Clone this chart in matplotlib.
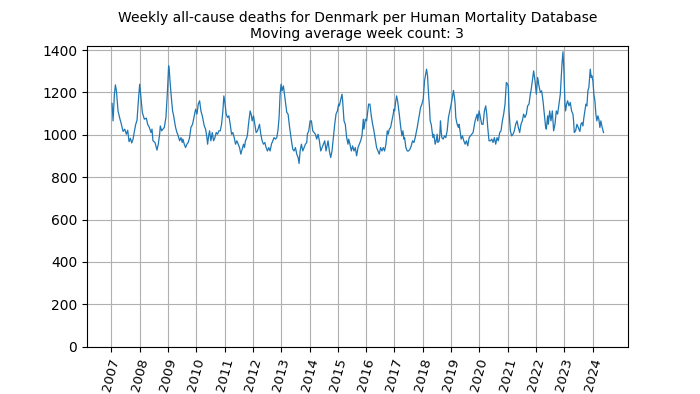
import matplotlib
matplotlib.use("Agg")
import matplotlib.pyplot as plt
import numpy as np

# weeks since start of 2007 and 3-week moving average of deaths
weeks = [
    1.2, 3.0, 5.5, 7.3, 9.2, 12.2, 15.3, 18.4, 21.4, 24.5, 27.6, 30.0, 32.5, 35.0, 37.4, 39.9,
    42.3, 44.8, 47.2, 49.7, 52.1, 54.6, 57.0, 60.7, 64.4,
    66.8, 69.9, 72.9, 74.8, 76.6, 80.3, 84.0, 86.4, 88.9, 90.1, 92.6, 95.0, 97.5, 100.5, 103.0,
    105.5, 106.7, 108.5, 111.0, 112.8, 114.7, 118.3, 120.8, 123.2, 125.7, 128.2, 130.6, 131.8,
    134.3, 136.7, 139.2, 141.6, 144.1, 146.6, 149.6, 152.7,
    155.2, 157.7, 160.1, 162.6, 165.0, 167.5, 171.2, 173.6, 176.1, 177.3, 179.7, 181.0, 183.4,
    185.9, 188.3, 190.8, 193.2, 195.7, 198.1, 200.6, 203.1, 205.5, 207.3, 209.2, 211.6, 214.1,
    216.5, 219.0, 221.5, 223.9, 226.4, 228.8, 231.3, 233.7, 236.2, 238.6, 241.1,
    243.5, 245.3, 247.2, 249.6, 250.9, 252.7, 255.8, 257.6, 259.5, 261.9, 264.4, 266.8, 269.3,
    273.0, 275.4, 277.9, 280.3, 282.8, 285.2, 287.7, 290.1, 292.6, 295.0, 297.5, 299.9, 302.4,
    304.9, 307.3, 309.1, 311.0, 312.8, 314.7, 317.1, 319.0, 320.8, 323.3, 325.7, 328.2,
    331.9, 334.4, 336.8, 339.3, 341.7, 344.2, 346.0, 347.9, 350.3, 352.8, 355.2, 357.7, 360.1,
    361.3, 363.8, 366.3, 368.7, 371.2, 373.6, 376.1, 378.5, 381.0, 383.4, 385.9, 388.3, 390.8,
    393.3, 395.7, 398.2, 399.4, 401.8, 404.3, 406.7, 409.2, 411.7, 414.1, 416.6, 419.0,
    420.2, 425.1, 426.3, 428.8, 431.2, 433.7, 436.2, 437.4, 439.8, 442.3, 444.7, 447.2, 449.6,
    452.1, 454.6, 457.0, 459.5, 461.9, 464.4, 465.6, 468.1, 470.5, 474.2, 476.6, 479.1, 481.6,
    484.0, 486.5, 488.9, 491.4, 493.8, 496.3, 498.7, 501.2, 503.6, 506.1,
    508.6, 510.4, 512.3, 514.7, 517.2, 519.6, 520.9, 522.1, 523.9, 525.8, 527.6, 530.7, 533.1,
    535.6, 537.4, 539.3, 540.5, 542.9, 545.4, 547.9, 550.3, 552.8, 555.2, 557.7, 560.1, 563.8,
    566.9, 570.0, 572.4, 574.9, 577.3, 581.0, 582.8, 584.7, 586.5, 587.7, 589.6, 592.7, 594.5,
    596.9, 598.7, 600.6, 601.8, 604.3, 605.5, 606.7, 607.9, 609.2, 611.6, 614.1, 616.5, 619.0,
    621.4, 623.9, 626.4, 628.8, 630.6, 632.5, 633.7, 634.9, 637.4, 639.8, 641.1, 643.5, 644.8,
    647.2, 649.7, 652.1, 654.6, 657.0, 659.5, 661.9, 664.4, 666.8, 670.5, 674.2, 675.4, 677.9,
    680.3, 682.8,
    685.2, 687.7, 690.1, 692.0, 693.8, 696.2, 698.7, 701.2, 703.6, 706.1, 708.5, 711.0, 713.4,
    715.9, 718.3, 720.8, 723.2, 725.7, 728.1, 730.6, 731.8, 733.1, 735.5, 738.0, 740.4, 742.9,
    745.3, 747.8, 750.2, 752.7, 755.1, 757.6, 760.0, 762.5, 765.0, 767.4, 769.9, 772.3,
    773.6, 776.1, 778.5, 781.0, 783.4, 785.9, 788.3, 790.8, 793.2, 795.7, 798.1, 800.6, 801.8,
    804.3, 805.5, 808.0, 810.4, 812.9, 815.3, 817.8, 820.2, 822.7, 825.1, 827.6, 830.7, 832.5,
    834.3, 836.2, 837.4, 839.2, 841.1, 843.5, 846.0, 848.4, 850.9, 852.1, 853.4, 855.8, 858.3,
    860.7,
    861.9, 863.7, 865.6, 867.4, 869.3, 871.1, 872.9, 874.8, 876.6, 878.5, 880.3, 882.8, 884.6,
    885.8, 887.7, 889.5, 891.4, 893.2, 895.0, 896.9, 898.7, 900.6, 902.4, 904.8, 907.3,
]
deaths = [
    1148, 1066, 1192, 1236, 1208, 1113, 1079, 1050, 1016, 1027, 1003, 1022, 968, 984, 962, 980,
    1016, 1050, 1069, 1161, 1239, 1169, 1106, 1074, 1079,
    1050, 1035, 1011, 1027, 972, 964, 928, 956, 1003, 1042, 1019, 1027, 1035, 1082, 1192,
    1326, 1302, 1239, 1161, 1113, 1090, 1035, 1011, 995, 972, 987, 964, 980,
    956, 940, 956, 964, 987, 1035, 1050, 1090,
    1121, 1098, 1145, 1161, 1113, 1090, 1042, 1027, 987, 956, 1003, 1019, 972,
    1011, 972, 987, 1011, 1003, 1019, 1019, 1050, 1113, 1184, 1153, 1098, 1082,
    1090, 1050, 1003, 1011, 987, 956, 972, 956, 940, 909, 932,
    956, 940, 972, 987, 1003, 1050, 1113, 1098, 1066, 1090, 1050, 1011, 1019,
    1050, 1003, 972, 956, 964, 940, 924, 940, 924, 956, 972, 987, 980,
    987, 1027, 1082, 1192, 1239, 1208, 1231, 1192, 1153, 1106, 1098, 1042,
    972, 932, 924, 940, 909, 893, 865, 924, 956, 924, 940, 956, 964,
    1003, 1019, 1066, 1066, 1019, 1011, 1003, 980, 1003, 972, 924, 940, 956,
    972, 924, 956, 972, 924, 893, 924, 987, 1050, 1098, 1113, 1145,
    1137, 1192, 1161, 1066, 1050, 987, 956, 980, 956, 924, 948, 924, 940,
    901, 940, 956, 972, 995, 1074, 1027, 1074, 1066, 1145, 1145, 1090, 1050,
    1019, 980, 940, 924, 909, 940, 924, 940, 924, 956,
    1019, 1003, 1027, 1035, 1066, 1098, 1121, 1113, 1153, 1184, 1161, 1098, 1042,
    995, 1019, 980, 987, 940, 924, 924, 932, 948, 972, 964, 987, 1035,
    1082, 1129, 1145, 1169, 1255, 1310, 1279, 1192, 1129, 1066, 1050, 987, 1003,
    956, 972, 1003, 964, 972, 1003, 1066, 1019, 987, 980, 995, 987, 1019,
    1082, 1113, 1145, 1180, 1210, 1176, 1145, 1082, 1050, 1035, 1050, 1003, 980,
    995, 972, 956, 972, 948, 987, 995, 1003, 1011, 1066, 1098, 1066, 1113,
    1082, 1050,
    1050, 1113, 1137, 1098, 1035, 972, 972, 980, 964, 987, 956, 987, 972,
    1011, 1019, 1066, 1098, 1145, 1247, 1239, 1224, 1113, 1019, 995, 1003, 1019,
    1050, 1066, 1035, 1011, 1050, 1066, 1098, 1082, 1098, 1137, 1145, 1192,
    1208, 1255, 1302, 1255, 1192, 1271, 1231, 1200, 1208, 1161, 1098, 1035, 1027,
    1090, 1050, 1113, 1066, 1113, 1019, 1050, 1113, 1098, 1145, 1192, 1334, 1392,
    1302, 1145, 1113, 1145, 1161, 1137, 1153, 1113, 1098, 1066, 1011, 1019, 1050,
    1035,
    1027, 1016, 1050, 1058, 1042, 1082, 1113, 1145, 1137, 1208, 1224, 1310, 1271,
    1279, 1255, 1192, 1161, 1098, 1066, 1090, 1074, 1035, 1066, 1035, 1011,
]
years = list(range(2007, 2025))

x = 2007 + np.array(weeks) / 52.1775

fig = plt.figure(figsize=(7, 3.94), dpi=100)
ax = fig.add_axes([0.124, 0.12, 0.773, 0.763])
ax.plot(x, deaths, color='C0', linewidth=0.9)
ax.set_ylim(0, 1419)
ax.set_xlim(2006.13, 2025.25)
ax.set_xticks(years)
ax.set_xticklabels([str(y) for y in years], rotation=75, fontsize=9.5)
ax.grid(True)
ax.set_title("Weekly all-cause deaths for Denmark per Human Mortality Database\nMoving average week count: 3",
             fontsize=10)

fig.savefig("out.png", dpi=100)
